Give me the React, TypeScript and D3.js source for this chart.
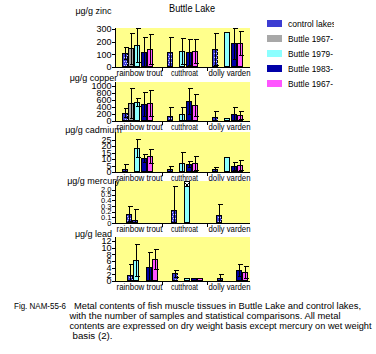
import React from 'react';
import * as d3 from 'd3';

const categories = ['rainbow trout', 'cutthroat', 'dolly varden'];
const seriesNames = ['control lakes', 'Buttle 1967-', 'Buttle 1979-', 'Buttle 1983-', 'Buttle 1967-'];
const title = 'Buttle Lake';

// rows = categories, columns = slots (null = not sampled)
const zincMeans = [[108, 148, 174, 118, 140], [118, null, 126, 118, 126], [142, null, 274, 187, 192]];
const zincSD = [[47, 123, 134, 116, 118], [116, null, 101, 101, 93], [124, null, 0, 120, 95]];
const copperMeans = [[237, 514, 534, 477, 514], [134, null, 209, 571, 457], [106, null, 86, 200, 171]];
const copperSD = [[126, 420, 115, 343, 363], [257, null, 182, 363, 306], [180, null, 0, 191, 123]];
const cadmiumMeans = [[2.5, null, 18.5, 10.8, 12.5], [2.3, null, 6.9, 6.2, 6.9], [2.0, null, 12, 4.8, 5.6]];
const cadmiumSD = [[3.7, null, 6.9, 3.0, 5.2], [2.0, null, 8.7, 2.0, 5.4], [1.8, null, 0, 3.0, 3.9]];
const mercuryMeans = [[0.16, 0.06, null, null], [0.23, null, 2.3, null], [0.14, null, null, null]];
const mercurySD = [[0.13, 0.18, null, null], [1.88, null, 0, null], [0.19, null, null, null]];
const leadMeans = [[1.8, 6.3, null, 4.1, 6.5], [2.3, null, 0.8, 0.8, 0.8], [0.8, null, null, 3.3, 2.7]];
const leadSD = [[3.2, 4.8, null, 4.6, 3.0], [1.0, null, 0, 0, 0], [1.2, null, null, 1.8, 1.8]];

const fiveSlotSeries = [0, 1, 2, 3, 4];
const mercurySlotSeries = [0, 0, 2, 3];
const leadSlotSeries = [0, 2, 2, 3, 4];

const zincTicks = [0, 100, 200, 300];
const copperTicks = [0, 200, 400, 600, 800, 1000];
const cadmiumTicks = [0, 5, 10, 15, 20, 25];
const mercuryTicks = [0, 0.1, 0.2, 0.3, 0.4, 0.5, 2.0];
const mercuryTickLabels = ['0', '0.1', '0.2', '0.3', '0.4', '0.5', '2.0'];
const leadTicks = [0, 2, 4, 6, 8, 10, 12];

const captionHead = 'Fig. NAM-55-6';
const captionLines = [
  'Metal contents of fish muscle tissues in Buttle Lake and control lakes,',
  'with the number of samples and statistical comparisons.  All metal',
  'contents are expressed on dry weight basis except mercury on wet weight',
  'basis (2).',
];

const fills = ['#3c3cd2', '#a8a8a8', '#8cffff', '#0000a8', '#ff55ff'];
const PLOT_BG = '#ffff8c';
const FONT = "'Liberation Sans', Arial, sans-serif";
const catLabelWidths = [46, 27, 42];
const legendWidths = [48, 45, 45, 45, 45];

const PLOT_L = 115;
const PLOT_R = 250;

const x = d3.scaleBand<string>().domain(categories).range([116, 251]).paddingInner(0).paddingOuter(0);

type PanelProps = {
  label: string;
  labelY: number;
  means: (number | null)[][];
  sds: (number | null)[][];
  slotSeries: number[];
  slotRange: [number, number];
  y: d3.ScaleLinear<number, number>;
  top: number;
  zero: number;
  ticks: number[];
  tickLabels?: string[];
  tickFont?: number;
  breakAbove?: number;
};

function Panel(p: PanelProps) {
  const slot = d3.scaleBand<number>().domain(p.slotSeries.map((_, i) => i)).range(p.slotRange).paddingInner(0);
  const bw = slot.bandwidth();
  const bars: JSX.Element[] = [];
  const errs: JSX.Element[] = [];
  categories.forEach((c, ci) => {
    p.means[ci].forEach((m, si) => {
      if (m === null) return;
      const x0 = Math.round((x(c) as number) + (slot(si) as number));
      const w = Math.round(bw);
      const yTop = Math.round(p.y(m));
      const ser = p.slotSeries[si];
      bars.push(
        <rect key={`b${ci}-${si}`} x={x0 + 0.5} y={yTop + 0.5} width={w - 1} height={Math.max(0, p.zero - yTop - 1)}
          fill={fills[ser]} stroke="#000" strokeWidth={1} />
      );
      if (ser === 0) {
        const dots: JSX.Element[] = [];
        for (let yy = yTop + 2; yy < p.zero - 1; yy += 2) {
          for (let xx = x0 + 1 + ((yy / 2) % 2); xx < x0 + w - 1; xx += 2) {
            dots.push(<rect key={`${xx}-${yy}`} x={xx} y={yy} width={1} height={1} fill="#c8c8ff" />);
          }
        }
        bars.push(<g key={`d${ci}-${si}`}>{dots}</g>);
      }
      if (p.breakAbove !== undefined && m > p.breakAbove) {
        bars.push(
          <g key={`k${ci}-${si}`}>
            <rect x={x0 + 0.5} y={yTop + 0.5} width={w - 1} height={5} fill="#fff" stroke="#000" />
            <path d={`M${x0 + 1.5},${yTop + 2} L${x0 + w / 2},${yTop + 4.5} L${x0 + w - 1.5},${yTop + 2}`} fill="none" stroke="#000" />
          </g>
        );
      }
      const sd = p.sds[ci][si];
      if (sd && sd > 0) {
        const cx = x0 + Math.floor(w / 2) + 0.5;
        const hi = Math.round(Math.max(p.y(m + sd), p.top)) + 0.5;
        const loV = m - sd;
        const lo = Math.round(p.y(Math.max(0, loV))) + 0.5;
        errs.push(
          <g key={`e${ci}-${si}`} stroke="#000" strokeWidth={1}>
            <line x1={cx} x2={cx} y1={hi} y2={lo} />
            <line x1={cx - 2} x2={cx + 3} y1={hi} y2={hi} />
            {loV > 0 && <line x1={cx - 2} x2={cx + 3} y1={lo} y2={lo} />}
          </g>
        );
      }
    });
  });
  const tl = p.tickLabels ?? p.ticks.map((t) => String(t));
  const tf = p.tickFont ?? 9;
  return (
    <g>
      <rect x={PLOT_L} y={p.top} width={PLOT_R - PLOT_L} height={p.zero - p.top} fill={PLOT_BG} />
      {p.ticks.map((t, i) => (
        <g key={`t${i}`}>
          <line x1={112} x2={115} y1={Math.round(p.y(t)) + 0.5} y2={Math.round(p.y(t)) + 0.5} stroke="#000" />
          <text x={111.5} y={p.y(t) + tf * 0.36} textAnchor="end" fontSize={tf} fontFamily={FONT}>{tl[i]}</text>
        </g>
      ))}
      <text x={93.5} y={p.labelY} textAnchor="middle" fontSize={9} fontFamily={FONT}>{p.label}</text>
      {bars}
      {errs}
      <line x1={PLOT_L + 0.5} x2={PLOT_L + 0.5} y1={p.top} y2={p.zero + 1} stroke="#000" />
      <line x1={PLOT_L} x2={PLOT_R} y1={p.zero + 0.5} y2={p.zero + 0.5} stroke="#000" />
      {categories.slice(0, 2).map((c) => {
        const sx = Math.round((x(c) as number) + x.bandwidth()) + 1.5;
        return <line key={`s${c}`} x1={sx} x2={sx} y1={p.zero} y2={p.zero + 4} stroke="#000" />;
      })}
      {categories.map((c, i) => (
        <text key={`c${c}`} x={(x(c) as number) + x.bandwidth() / 2 + 1 - catLabelWidths[i] / 2} y={p.zero + 8.5}
          fontSize={9} fontFamily={FONT} textLength={catLabelWidths[i]} lengthAdjust="spacingAndGlyphs">{c}</text>
      ))}
    </g>
  );
}

export default function App() {
  const yZinc = d3.scaleLinear().domain([0, 308]).range([67, 28]);
  const yCopper = d3.scaleLinear().domain([0, 1114]).range([121, 82]);
  const yCad = d3.scaleLinear().domain([0, 31]).range([172, 132]);
  const yHg = d3.scaleLinear().domain([0, 0.5, 2.0, 2.3]).range([223, 194.5, 189.5, 181]);
  const yLead = d3.scaleLinear().domain([0, 13.2]).range([281, 237]);

  return (
    <svg width={376} height={354} style={{ position: 'absolute', left: 0, top: 0, background: '#fff' }} shapeRendering="crispEdges">
      <text x={169} y={12} fontSize={11} fontFamily={FONT} textLength={46} lengthAdjust="spacingAndGlyphs">{title}</text>

      <Panel label="μg/g zinc" labelY={14} means={zincMeans} sds={zincSD} slotSeries={fiveSlotSeries} slotRange={[6, 37]} y={yZinc} top={28} zero={67} ticks={zincTicks} />
      <Panel label="μg/g copper" labelY={80.5} means={copperMeans} sds={copperSD} slotSeries={fiveSlotSeries} slotRange={[6, 37]} y={yCopper} top={82} zero={121} ticks={copperTicks} />
      <Panel label="μg/g cadmium" labelY={133} means={cadmiumMeans} sds={cadmiumSD} slotSeries={fiveSlotSeries} slotRange={[6, 37]} y={yCad} top={132} zero={172} ticks={cadmiumTicks} />
      <Panel label="μg/g mercury" labelY={184} means={mercuryMeans} sds={mercurySD} slotSeries={mercurySlotSeries} slotRange={[10, 35.6]} y={yHg} top={181} zero={223} ticks={mercuryTicks} tickLabels={mercuryTickLabels} tickFont={7.5} breakAbove={2.0} />
      <Panel label="μg/g lead" labelY={236.5} means={leadMeans} sds={leadSD} slotSeries={leadSlotSeries} slotRange={[11, 42]} y={yLead} top={237} zero={281} ticks={leadTicks} />

      <defs>
        <clipPath id="legClip"><rect x={260} y={10} width={74} height={85} /></clipPath>
      </defs>
      <g clipPath="url(#legClip)">
        {seriesNames.map((s, i) => (
          <g key={`l${i}`}>
            <rect x={267} y={20 + 15 * i} width={15} height={7} fill={fills[i]} />
            <text x={288} y={27 + 15 * i} fontSize={9.5} fontFamily={FONT} textLength={legendWidths[i]} lengthAdjust="spacingAndGlyphs">{s}</text>
          </g>
        ))}
      </g>

      <text x={14} y={309} fontSize={8.5} fontFamily={FONT} textLength={52} lengthAdjust="spacingAndGlyphs">{captionHead}</text>
      <text x={74} y={309} fontSize={8.5} fontFamily={FONT} textLength={287} lengthAdjust="spacingAndGlyphs">{captionLines[0]}</text>
      <text x={69.5} y={319} fontSize={8.5} fontFamily={FONT} textLength={271} lengthAdjust="spacingAndGlyphs">{captionLines[1]}</text>
      <text x={69.5} y={329} fontSize={8.5} fontFamily={FONT} textLength={302} lengthAdjust="spacingAndGlyphs">{captionLines[2]}</text>
      <text x={72.5} y={339} fontSize={8.5} fontFamily={FONT} textLength={40} lengthAdjust="spacingAndGlyphs">{captionLines[3]}</text>
    </svg>
  );
}
